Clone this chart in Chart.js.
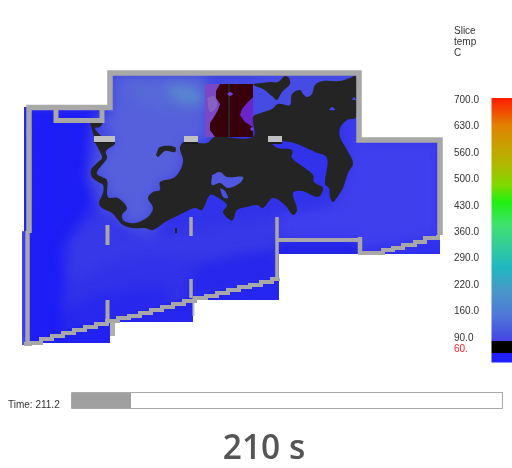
<!DOCTYPE html>
<html><head><meta charset="utf-8">
<style>html,body{margin:0;padding:0;background:#fff}canvas{display:block}</style>
<script src="https://cdn.jsdelivr.net/npm/chart.js@4"></script>
</head><body><canvas id="c" width="512" height="468"></canvas>
<script>
/* Picture-plane readings (x, y) */
const fieldAll=[[24,107],[108,107],[108,72],[358,72],[358,141],[440,141],[440,235],[425,238],[358,252],[358,240],[279,240],[279,280],[193,298],[110,320],[25,345],[22,345],[22,232],[24,232],[24,107]];
const fieldUnderA=[[22,340],[110,318],[110,343],[22,343],[22,340]];
const fieldUnderB=[[110,318],[193,296],[193,322],[110,322],[110,318]];
const fieldUnderC=[[193,296],[279,276],[279,300],[193,300],[193,296]];
const fieldUnderD=[[279,238],[358,238],[358,254],[279,254],[279,238]];
const fieldUnderE=[[358,250],[440,232],[440,254],[358,254],[358,250]];
const stripLeft=[[22,231],[26,231],[26,345],[22,345],[22,231]];
const deepLeft=[[24,107],[92,107],[98,140],[88,180],[98,210],[70,240],[62,300],[70,340],[22,345],[22,232],[24,107]];
const bandMid=[[90,200],[170,235],[280,215],[279,250],[210,262],[150,255],[110,262],[70,282],[60,250],[80,220],[90,200]];
const deepBottom=[[180,300],[200,265],[240,255],[276,250],[279,280],[200,296],[180,300]];
const deepLower=[[70,340],[62,310],[95,295],[130,290],[165,285],[170,305],[110,322],[70,340]];
const rightField=[[279,215],[335,205],[350,170],[345,122],[358,118],[358,141],[440,143],[440,236],[360,250],[358,238],[279,238],[279,215]];
const haloMid=[[108,72],[358,72],[358,100],[260,120],[205,142],[150,240],[100,210],[88,175],[92,125],[108,110],[108,72]];
const coreMid=[[113,76],[205,76],[205,138],[184,142],[180,148],[183,162],[175,177],[160,182],[160,190],[153,192],[148,198],[153,208],[148,217],[135,223],[124,221],[122,215],[127,208],[118,198],[108,197],[107,180],[97,174],[106,151],[115,143],[105,125],[113,110],[113,76]];
const tealSpot=[[165,88],[180,86],[198,92],[204,100],[192,104],[176,99],[165,88]];
const tealEdge=[[125,80],[205,78],[205,110],[170,112],[135,100],[125,80]];
const topRight=[[253,72],[358,72],[358,118],[290,112],[253,118],[253,72]];
const blackMain=[[90,123],[102,123],[100,127],[95,128],[98,133],[103,137],[115,143],[106,151],[107,158],[102,165],[98,170],[97,174],[102,177],[107,180],[108,197],[118,198],[127,208],[122,215],[124,221],[135,223],[148,217],[153,208],[148,198],[153,192],[160,190],[160,182],[175,177],[183,162],[180,148],[184,142],[198,143],[207,143],[215,137],[253,137],[253,117],[258,114],[272,109],[278,104],[290,105],[292,94],[300,90],[303,94],[307,97],[312,94],[315,85],[323,81],[340,81],[350,78],[356,76],[356,117],[347,120],[340,128],[340,137],[347,150],[353,163],[348,173],[343,188],[340,193],[333,202],[330,197],[329,188],[325,184],[327,158],[315,152],[290,142],[272,143],[278,148],[292,150],[292,158],[305,168],[313,175],[314,182],[323,188],[318,197],[302,191],[293,193],[297,210],[293,215],[285,205],[273,198],[263,208],[257,205],[247,207],[237,210],[233,220],[230,220],[223,212],[227,205],[217,197],[210,195],[202,210],[195,208],[185,212],[175,217],[165,222],[153,230],[145,228],[132,228],[123,225],[118,220],[112,213],[102,208],[99,203],[103,193],[103,185],[98,182],[92,177],[91,170],[97,163],[102,158],[99,150],[95,142],[93,133],[90,123]];
const blackTongue=[[253,84],[270,82],[278,82],[285,76],[289,78],[290,84],[282,92],[277,100],[273,97],[263,89],[255,86],[253,84]];
const blackEar=[[156,155],[160,147],[175,147],[175,152],[165,151],[158,157],[156,155]];
const blackSpeck=[[175,228],[177,228],[177,233],[175,233],[175,228]];
const islandOne=[[212,175],[220,172],[227,177],[243,177],[240,183],[228,188],[220,183],[212,185],[212,175]];
const islandTwo=[[220,188],[225,191],[228,198],[223,197],[220,188]];
const islandThree=[[329,110],[332,107],[335,110],[329,110]];
const islandFour=[[352,100],[354,97],[356,100],[352,100]];
const panelBase=[[205,84],[253,84],[253,137],[205,137],[205,84]];
const panelGlow=[[207,98],[214,96],[217,106],[210,112],[207,98]];
const panelRight=[[240,84],[253,84],[253,137],[240,137],[240,84]];
const panelRed=[[220,84],[253,84],[253,97],[247,103],[242,109],[240,115],[245,122],[253,127],[253,137],[215,137],[210,130],[210,123],[214,117],[218,110],[220,104],[216,98],[216,91],[220,84]];
const panelLine=[[229,84],[229,137]];
const panelDotA=[[227,94],[230,92],[233,94],[230,96],[227,94]];
const panelDotB=[[250,129],[252,127],[254,129],[252,131],[250,129]];
const wallUpper=[[29,233],[29,107.5],[110,107.5],[110,73],[359,73],[359,140],[440,140],[440,235]];
const wallLower=[[27.5,231],[27.5,345]];
const wallBox=[[56,108],[56,120.5],[102,120.5],[102,108]];
const wallShelf=[[277,217],[277,280]];
const wallLedge=[[278,240],[360,240]];
const wallStub=[[360,237],[360,254]];
const wallA=[[107.5,225],[107.5,245]];
const wallB=[[107.5,300],[107.5,322]];
const wallB2=[[112.5,322],[112.5,336]];
const wallC=[[191,217],[191,236]];
const wallD=[[191,279],[191,298]];
const wallD2=[[193.5,298],[193.5,316]];
const stairMain=[[24,344],[30,343],[41,339],[52,336],[63,333],[74,330],[85,327],[96,324],[107,321],[118,318],[129,316],[140,313],[151,310],[162,307],[173,304],[184,301],[195,298],[206,296],[217,293],[228,290],[239,287],[250,285],[261,282],[272,279],[278,278]];
const stairRight=[[358,253],[372,253],[383,250],[393,248],[403,245],[415,242],[425,238],[438,235]];
const ventA=[[94,136],[115,136],[115,142],[94,142],[94,136]];
const ventB=[[184,136],[198,136],[198,142],[184,142],[184,136]];
const ventC=[[268,136],[282,136],[282,142],[268,142],[268,136]];
const ventShadeA=[[94,141],[115,141],[115,143],[94,143],[94,141]];
const ventShadeB=[[184,141],[198,141],[198,144],[184,144],[184,141]];
const ventShadeC=[[268,141],[282,141],[282,144],[268,144],[268,141]];
const colorbarBody=[[491.5,98],[512,98],[512,341],[491.5,341],[491.5,98]];
const colorbarBlack=[[491.5,341],[512,341],[512,353],[491.5,353],[491.5,341]];
const colorbarLow=[[491.5,353],[512,353],[512,362.5],[491.5,362.5],[491.5,353]];
const barStopsY=[98,125,145,165,185,202,225,250,267,290,315,341];
const barStopColors=['#ff1a00','#e28000','#c8a000','#b0b800','#80d800','#20f010','#40e070','#30c8a0','#20b8c0','#4898c8','#5078d8','#4444e2'];
const barLabels=['700.0','630.0','560.0','500.0','430.0','360.0','290.0','220.0','160.0','90.0','60.'];
const barSlots=[0,1,2,3,4,5,6,7,8,9,9.43];
const timeTrack=[[71.5,392.5],[502.5,392.5],[502.5,408.5],[71.5,408.5],[71.5,392.5]];
const timeDone=[[72,393],[131,393],[131,408],[72,408],[72,393]];
const captionTexts=[
 {t:'Slice',x:454,y:31,f:'10px "Liberation Sans"',c:'#333'},
 {t:'temp',x:454,y:42,f:'10px "Liberation Sans"',c:'#333'},
 {t:'C',x:454,y:53,f:'10px "Liberation Sans"',c:'#333'},
 {t:'Time: 211.2',x:8,y:405,f:'10px "Liberation Sans"',c:'#333'},
 {t:'210 s',x:264,y:449.5,f:'600 33.5px "Open Sans"',c:'#555',a:'center'}
];
const softClip=[fieldAll,fieldUnderA,fieldUnderB,fieldUnderC,fieldUnderD,fieldUnderE];

const Wall='#a8a8a8';
function poly(data,color,smooth){return {data:data.map(p=>({x:p[0],y:p[1]})),showLine:true,fill:'shape',backgroundColor:color,borderColor:'rgba(0,0,0,0)',borderWidth:0,tension:smooth?0.35:0,pointRadius:0,clip:false,xAxisID:'x',yAxisID:'y'};}
function line(data,width,color,stepped){return {data:data.map(p=>({x:p[0],y:p[1]})),showLine:true,fill:false,borderColor:color||Wall,backgroundColor:'transparent',borderWidth:width,stepped:stepped||false,borderCapStyle:'butt',borderJoinStyle:'miter',pointRadius:0,clip:false,xAxisID:'x',yAxisID:'y'};}
function barGradient(ctx){
  const ch=ctx.chart; const s=ch.scales.y;
  const n=barStopsY.length;
  const a=s?s.getPixelForValue(barStopsY[0]):NaN,b=s?s.getPixelForValue(barStopsY[n-1]):NaN;
  if(!isFinite(a)||!isFinite(b)) return barStopColors[0];
  const g=ch.ctx.createLinearGradient(0,a,0,b);
  barStopsY.forEach((v,i)=>g.addColorStop((v-barStopsY[0])/(barStopsY[n-1]-barStopsY[0]),barStopColors[i]));
  return g;
}
/* soft field layers: blurred and held inside the room outline */
const hardBase=[
 poly(fieldAll,'#3232ea'),poly(fieldUnderA,'#2222f4'),poly(fieldUnderB,'#2626ee'),poly(fieldUnderC,'#2626f0'),poly(fieldUnderD,'#2424e8'),poly(fieldUnderE,'#3030f0'),
 poly(stripLeft,'#6a6af0')
];
const softField=[
 poly(rightField,'rgba(66,66,238,0.85)'),
 poly(deepLeft,'rgba(28,28,246,0.95)'),
 poly(bandMid,'rgba(70,72,228,0.3)'),
 poly(deepBottom,'rgba(34,34,238,0.7)'),
 poly(deepLower,'rgba(36,36,240,0.7)'),
 poly(topRight,'rgba(68,68,238,0.85)'),
 poly(haloMid,'rgba(72,78,226,0.85)'),
 poly(coreMid,'#5660dc'),
 poly(tealEdge,'rgba(88,112,214,0.6)'),
 poly(tealSpot,'rgba(90,150,205,0.8)')
];
const marks=[
 poly(panelBase,'#7a48c4'),poly(panelGlow,'rgba(150,120,190,0.5)',true),poly(panelRight,'#6a24cc'),
 poly(blackMain,'#242424',true),poly(blackTongue,'#242424',true),poly(blackEar,'#242424',true),poly(blackSpeck,'#242424'),
 poly(islandOne,'#5058e0',true),poly(islandTwo,'#4a50e2',true),poly(islandThree,'#4444ea',true),poly(islandFour,'#4444ea',true),
 poly(panelRed,'#38000a'),line(panelLine,2,'#242424'),poly(panelDotA,'#7040d0',true),poly(panelDotB,'#7040d0',true),
 line(wallLower,4.5),line(wallShelf,3.5),line(wallLedge,4),line(wallStub,4.5),line(wallUpper,5.5),line(wallBox,5),
 line(wallA,4),line(wallB,4),line(wallB2,5,'#b0b0b0'),line(wallC,3.5),line(wallD,3.5),line(wallD2,2,'#c0c0c0'),
 line(stairMain,4,Wall,'before'),line(stairRight,4,Wall,'before'),
 poly(ventShadeA,'#1c1c1c'),poly(ventShadeB,'#1c1c1c'),poly(ventShadeC,'#1c1c1c'),
 poly(ventA,'#c0c0c0'),poly(ventB,'#c0c0c0'),poly(ventC,'#c0c0c0'),
 poly(colorbarBody,barGradient),poly(colorbarBlack,'#000000'),poly(colorbarLow,'#2020ff'),
 poly(timeDone,'#a0a0a0'),line(timeTrack,1,'#aaaaaa')
];
const layers=[...hardBase,...softField,...marks];
layers.forEach((d,i)=>{d.order=layers.length-i;});
const softFrom=hardBase.length-1, softTo=hardBase.length+softField.length-1;

const captions={id:'captions',
 afterLayout(ch){const s=ch.scales.barAxis; s.left=s.right=454;},
 afterDatasetDraw(ch,args){
  const g=ch.ctx,x=ch.scales.x,y=ch.scales.y;
  if(args.index===softFrom){
    g.save();g.beginPath();
    softClip.forEach(r=>{r.forEach((p,i)=>{const px=x.getPixelForValue(p[0]),py=y.getPixelForValue(p[1]);i?g.lineTo(px,py):g.moveTo(px,py);});g.closePath();});
    g.clip('nonzero');g.filter='blur(6px)';
  }
  if(args.index===softTo){g.filter='none';g.restore();}
 },
 afterDatasetsDraw(ch){
  const g=ch.ctx,x=ch.scales.x,y=ch.scales.y;
  captionTexts.forEach(k=>{g.save();g.font=k.f;g.fillStyle=k.c;g.textAlign=k.a||'left';g.textBaseline='middle';g.fillText(k.t,x.getPixelForValue(k.x),y.getPixelForValue(k.y));g.restore();});
}};

new Chart(document.getElementById('c'),{
  type:'scatter',
  data:{datasets:layers},
  plugins:[captions],
  options:{
    responsive:false,animation:false,
    layout:{padding:0},
    plugins:{legend:{display:false},tooltip:{enabled:false},title:{display:false}},
    scales:{
      x:{type:'linear',min:0,max:512,display:false},
      y:{type:'linear',min:0,max:468,reverse:true,display:false},
      barAxis:{
        type:'linear',position:'left',reverse:true,
        min:-3.782,max:13.918,
        grid:{display:false},border:{display:false},
        afterFit(s){s.width=0;s.paddingTop=0;s.paddingBottom=0;s.paddingLeft=0;s.paddingRight=0;},
        afterBuildTicks(s){s.ticks=barSlots.map(v=>({value:v}));},
        ticks:{mirror:true,padding:0,autoSkip:false,maxRotation:0,
          font:{family:'"Liberation Sans"',size:10},
          color:c=>c.index===10?'#ff2020':'#333333',
          callback:(v,i)=>barLabels[i]}
      }
    }
  }
});
</script></body></html>
